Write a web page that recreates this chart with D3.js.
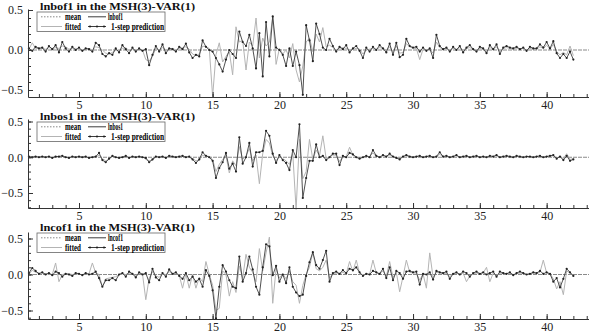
<!DOCTYPE html>
<html><head><meta charset="utf-8">
<script src="https://cdn.jsdelivr.net/npm/d3@7"></script>
<style>body{margin:0;background:#fff}svg{display:block}</style>
</head><body><svg id="c" width="589" height="334"></svg>
<script>
// ---------- DATA ----------
const timeStart = 1.25;   // first observation
const timeStep = 0.25;    // spacing between observations
const xTickLabels = [5, 10, 15, 20, 25, 30, 35, 40];
const yTickLabels = [-0.5, 0.0, 0.5];
const seriesNames = ["lnbof1", "lnbos1", "lncof1"];
const modelName = "MSH(3)-VAR(1)";
const legendLabels = ["mean", "fitted", "1-step prediction"];
const meanValues = [0.0, 0.0, 0.0];

const bof1Actual = [
 0.02,-0.01,0.04,0.02,  0.03,-0.02,0.05,0.01,  0.06,-0.03,0.10,0.02,  -0.02,0.04,0.00,0.03,
 -0.01,0.02,0.01,-0.02, 0.09,0.06,-0.05,-0.08, -0.04,-0.06,0.02,-0.03, 0.06,0.01,-0.04,0.03,
 -0.02,0.02,-0.01,0.01, -0.19,-0.06,0.05,-0.02, 0.07,-0.04,0.02,0.01, -0.02,0.04,0.01,0.08,
 -0.03,-0.10,-0.06,-0.08, 0.12,0.04,0.00,-0.02, -0.10,-0.18,-0.27,-0.12, 0.00,-0.05,-0.10,0.23,
 0.10,0.05,0.19,0.02,  -0.23,0.21,-0.33,0.35, -0.08,0.42,0.03,0.00, -0.06,-0.20,0.02,-0.20,
 -0.02,-0.19,-0.56,0.31, 0.12,-0.14,0.33,0.20, 0.03,0.00,0.14,0.05, -0.02,0.04,0.01,0.06,
 -0.03,0.02,0.05,-0.01, -0.10,0.03,-0.02,0.04, 0.00,0.06,0.02,-0.03, 0.08,-0.06,0.09,-0.09,
 -0.06,0.14,0.05,0.03, 0.04,-0.02,0.03,-0.01, 0.02,-0.10,0.19,0.05, 0.01,0.03,-0.02,0.04,
 0.00,0.05,-0.03,0.03, 0.06,0.01,-0.02,0.04, 0.02,-0.04,0.06,0.01, 0.07,-0.05,0.03,0.05,
 0.03,0.02,0.04,0.01, 0.03,-0.01,0.04,0.02, 0.02,0.07,0.03,0.10, 0.02,0.11,-0.04,-0.10,
 -0.05,-0.10,-0.02,-0.12
];
const bof1Fitted = [
 0.01,0.09,0.02,0.02,  0.02,0.01,0.03,0.02,  0.03,0.02,0.05,0.04,  0.01,0.02,0.02,0.01,
 0.00,0.01,0.02,0.00,  0.04,0.03,0.00,-0.04, -0.05,-0.03,0.00,-0.01, 0.02,0.03,-0.01,0.01,
 0.00,0.01,0.00,-0.12, -0.14,-0.08,0.02,0.00, 0.03,0.00,0.01,0.02, 0.00,0.02,0.03,0.04,
 0.01,-0.05,-0.07,-0.05, 0.05,0.04,0.02,-0.58, -0.06,0.09,-0.15,-0.08, -0.02,-0.31,0.29,0.10,
 0.12,-0.25,0.10,0.05, 0.40,-0.10,0.15,0.05, 0.10,0.42,-0.18,0.02, -0.05,0.00,-0.10,0.08,
 -0.25,-0.40,-0.20,0.10, 0.15,-0.02,0.20,0.10, 0.28,0.04,0.06,0.03, 0.00,0.02,0.03,0.02,
 0.00,0.01,0.02,0.01, -0.05,0.00,0.01,0.02, 0.01,0.03,0.02,0.00, 0.04,-0.02,0.05,-0.04,
 -0.03,0.08,0.04,0.02, 0.02,-0.12,0.01,0.00, 0.01,-0.04,0.10,0.03, 0.01,0.02,0.00,0.02,
 0.01,0.03,0.00,0.02, 0.03,0.01,0.00,0.02, 0.01,-0.02,0.03,0.01, 0.04,-0.02,0.02,0.03,
 0.02,0.01,0.02,0.01, 0.02,0.00,0.02,0.01, 0.01,0.04,0.02,0.06, 0.01,0.07,-0.02,-0.06,
 -0.03,-0.06,0.05,-0.07
];
const bos1Actual = [
 0.01,0.00,0.01,0.00, 0.01,0.00,0.01,-0.01, 0.01,0.01,0.02,0.00, -0.01,0.01,0.00,0.01,
 0.00,0.01,-0.01,0.00, 0.01,0.06,-0.04,-0.07, -0.02,0.02,0.00,-0.01, 0.00,0.02,-0.01,0.01,
 0.00,0.01,0.00,-0.01, -0.07,-0.03,0.01,0.00, 0.01,-0.01,0.02,0.01, 0.00,0.01,0.02,0.00,
 0.01,-0.03,-0.08,-0.03, 0.07,0.02,0.00,-0.05, -0.29,-0.15,-0.07,0.06, -0.16,-0.09,-0.20,0.28,
 -0.09,0.00,0.20,-0.13, 0.07,0.07,0.09,0.37, 0.30,0.05,-0.08,0.03, -0.04,-0.08,-0.18,0.10,
 0.00,0.46,-0.57,-0.29, -0.05,-0.05,0.18,0.00, 0.02,-0.04,0.00,0.05, 0.05,-0.11,0.02,0.00,
 0.06,0.04,0.00,-0.02, 0.00,0.02,0.00,0.10, 0.02,0.00,0.03,0.01, 0.05,0.01,-0.01,-0.03,
 0.01,0.03,0.01,0.00, 0.01,0.02,0.00,0.01, 0.02,0.00,0.01,0.07, 0.01,0.02,0.00,0.01,
 0.03,0.00,0.01,0.02, 0.00,0.01,0.02,0.00, 0.01,0.00,0.02,0.01, 0.03,0.00,0.01,0.02,
 0.01,0.00,0.02,0.01, 0.00,0.01,0.01,0.00, 0.01,0.02,0.00,0.01, 0.02,0.03,-0.02,0.01,
 -0.04,0.02,-0.05,-0.03
];
const bos1Fitted = [
 0.00,0.01,0.00,0.01, 0.00,0.01,0.00,0.00, 0.01,0.00,0.01,0.01, 0.00,0.00,0.01,0.00,
 0.01,0.00,0.00,0.01, 0.00,0.03,-0.02,-0.05, -0.03,0.01,0.00,0.00, 0.01,0.01,0.00,0.00,
 0.01,0.00,0.01,-0.03, -0.05,-0.04,0.00,0.01, 0.00,0.00,0.01,0.01, 0.01,0.00,0.01,0.01,
 0.00,-0.02,-0.05,-0.04, 0.03,0.02,0.01,-0.03, -0.20,-0.10,-0.03,0.02, -0.22,-0.05,-0.12,0.15,
 -0.03,0.02,0.12,-0.05, 0.03,-0.37,0.05,0.25, 0.20,0.02,-0.05,0.02, -0.02,-0.05,-0.10,0.05,
 -0.73,0.25,-0.30,-0.20, 0.25,-0.03,0.10,0.02, 0.30,-0.02,0.01,0.03, 0.03,-0.06,0.01,0.01,
 0.14,0.03,0.01,-0.01, 0.00,0.01,0.01,0.06, 0.01,0.01,0.02,0.01, 0.03,0.01,0.00,-0.02,
 0.01,0.02,0.01,0.00, 0.01,0.01,0.00,0.01, 0.01,0.00,0.01,0.04, 0.01,0.01,0.00,0.01,
 0.02,0.00,0.01,0.01, 0.00,0.01,0.01,0.00, 0.01,0.00,0.01,0.01, 0.02,0.00,0.01,0.01,
 0.01,0.00,0.01,0.01, 0.00,0.01,0.01,0.00, 0.01,0.01,0.00,0.01, 0.01,0.02,-0.01,0.01,
 -0.02,0.05,-0.03,-0.02
];
const cof1Actual = [
 0.02,0.09,0.05,0.01, 0.03,0.00,0.02,-0.01, 0.04,0.02,-0.03,0.01, 0.00,-0.02,0.02,0.01,
 -0.01,0.02,0.00,0.01, 0.04,-0.05,-0.17,-0.08, -0.08,-0.05,-0.08,0.00, 0.02,-0.03,0.04,0.01,
 -0.04,0.03,0.00,0.02, -0.11,0.08,-0.04,-0.08, 0.02,-0.03,0.07,0.01, 0.03,-0.02,-0.06,0.02,
 -0.08,-0.03,-0.10,-0.06, -0.17,0.06,-0.02,-0.22, -0.61,-0.17,0.13,0.04, -0.08,-0.17,-0.19,0.25,
 -0.10,0.02,0.25,0.07, -0.17,-0.28,0.10,0.42, 0.39,-0.01,0.12,-0.10, 0.00,-0.12,0.10,-0.17,
 -0.25,-0.30,-0.28,-0.02, 0.17,0.31,0.13,0.08, 0.20,0.33,-0.10,0.02, 0.04,0.01,0.06,0.02,
 0.08,0.06,0.10,0.03, -0.02,0.01,0.00,0.05, 0.03,0.01,0.08,-0.05, 0.10,-0.08,0.05,0.02,
 -0.06,0.04,0.05,0.03, 0.04,-0.14,0.01,0.00, 0.03,-0.07,0.05,0.03, 0.02,0.04,-0.06,0.01,
 0.03,0.00,0.04,0.02, -0.03,0.02,0.04,0.01, 0.03,0.00,0.02,0.04, -0.03,0.04,0.02,0.01,
 0.03,-0.01,0.02,0.04, 0.02,0.00,0.01,0.03, 0.02,0.05,0.01,0.03, 0.01,-0.10,-0.05,-0.18,
 -0.06,0.08,0.03,-0.02
];
const cof1Fitted = [
 0.00,0.06,0.03,0.02, 0.02,0.01,0.01,0.00, 0.16,-0.10,0.00,0.01, 0.01,0.00,0.01,0.00,
 0.00,0.01,0.01,0.16, 0.02,0.00,-0.17,-0.06, -0.05,-0.04,-0.03,0.00, 0.01,0.00,0.02,0.01,
 -0.02,0.02,0.01,-0.35, -0.05,0.04,-0.02,-0.04, 0.01,0.00,0.04,0.01, 0.02,-0.01,-0.19,0.01,
 -0.19,0.00,-0.19,-0.04, -0.10,0.18,0.00,-0.15, -0.50,-0.47,0.05,0.00, -0.30,-0.10,-0.25,0.12,
 -0.05,0.28,0.10,0.03, -0.10,0.36,0.05,0.30, 0.52,-0.40,0.08,-0.05, 0.01,-0.06,0.05,-0.10,
 -0.15,-0.40,-0.15,0.00, 0.10,0.31,0.08,0.05, 0.10,0.20,-0.05,0.01, 0.02,0.01,0.03,0.01,
 0.18,0.04,0.20,0.02, -0.01,0.01,0.00,0.20, 0.02,0.01,0.05,-0.03, 0.18,-0.04,0.03,-0.24,
 -0.03,0.20,0.03,0.02, 0.02,-0.08,0.01,-0.19, 0.30,-0.04,0.03,0.02, 0.01,0.02,-0.03,0.01,
 0.02,0.00,0.02,-0.10, -0.02,0.01,0.02,0.01, 0.02,0.10,-0.10,0.02, -0.02,0.02,0.01,0.01,
 0.02,0.00,0.01,0.02, 0.01,0.00,0.01,0.02, 0.01,0.03,0.20,0.02, 0.01,-0.06,-0.20,-0.10,
 -0.28,0.05,0.02,-0.01
];

// ---------- LAYOUT ----------
const axisLeft = 28, axisRight = 589;
const svg = d3.select("#c");
const serif = "'Liberation Serif','Times New Roman',serif";
const x = d3.scaleLinear().domain([1.183, 43.17]).range([axisLeft, axisRight]);

const panels = [
  {name: seriesNames[0], actual: bof1Actual, fitted: bof1Fitted, mean: meanValues[0], T: 0,   yHi: 10,    yLo: 90,    bottom: 97,  top: 9},
  {name: seriesNames[1], actual: bos1Actual, fitted: bos1Fitted, mean: meanValues[1], T: 110, yHi: 121.5, yLo: 193,   bottom: 208, top: 119},
  {name: seriesNames[2], actual: cof1Actual, fitted: cof1Fitted, mean: meanValues[2], T: 221, yHi: 238.5, yLo: 310.5, bottom: 319, top: 232}
];

panels.forEach(p => {
  const y0 = d3.scaleLinear().domain([-0.5, 0.5]).range([p.yLo, p.yHi]);
  const y = d3.scaleLinear().domain([y0.invert(p.bottom), y0.invert(p.top)]).range([p.bottom, p.top]);
  const g = svg.append("g");
  const tx = i => x(timeStart + i * timeStep);

  // mean line
  g.append("line").attr("x1", axisLeft).attr("x2", axisRight)
    .attr("y1", y(p.mean)).attr("y2", y(p.mean))
    .attr("stroke", "#8a8a8a").attr("stroke-width", 1).attr("stroke-dasharray", "4,1");

  const line = d3.line().x((d, i) => tx(i)).y(d => y(d));
  g.append("path").datum(p.fitted).attr("d", line)
    .attr("fill", "none").attr("stroke", "#b4b4b4").attr("stroke-width", 1);
  g.append("path").datum(p.actual).attr("d", line)
    .attr("fill", "none").attr("stroke", "#3c3c3c").attr("stroke-width", 0.9);
  g.selectAll("circle.pt").data(p.actual).join("circle").attr("class", "pt")
    .attr("cx", (d, i) => tx(i)).attr("cy", d => y(d)).attr("r", 1.1).attr("fill", "#222");

  // x axis
  const xa = g.append("g").attr("transform", `translate(0,${p.bottom})`)
    .call(d3.axisBottom(x).tickValues(xTickLabels).tickSize(-5).tickSizeOuter(0).tickPadding(3)
      .tickFormat(d3.format("d")));
  const xm = g.append("g").attr("transform", `translate(0,${p.bottom})`)
    .call(d3.axisBottom(x).tickValues(d3.range(2, 44)).tickSize(-3).tickSizeOuter(0).tickFormat(""));
  xm.select(".domain").remove();
  // y axis
  const ya = g.append("g").attr("transform", `translate(${axisLeft},0)`)
    .call(d3.axisLeft(y).tickValues(yTickLabels).tickSize(-5).tickSizeOuter(0).tickPadding(5)
      .tickFormat(d3.format(".1f")));
  const ym = g.append("g").attr("transform", `translate(${axisLeft},0)`)
    .call(d3.axisLeft(y).ticks(12).tickSize(-3).tickSizeOuter(0).tickFormat(""));
  ym.select(".domain").remove();
  [xa, xm, ya, ym].forEach(a => {
    a.selectAll("path,line").attr("stroke", "#333");
    a.selectAll("text").attr("font-family", serif).attr("font-size", 12).attr("fill", "#222");
  });

  // title
  g.append("text").attr("x", 40).attr("y", p.T + 9.5)
    .attr("font-family", serif).attr("font-weight", "bold").attr("font-size", 10.5)
    .attr("textLength", 155).attr("lengthAdjust", "spacingAndGlyphs").attr("fill", "#111")
    .text(`${p.name} in the ${modelName}`);

  // legend
  const L = g.append("g");
  L.append("rect").attr("x", 37).attr("y", p.T + 12).attr("width", 128).attr("height", 19.5)
    .attr("fill", "#fff").attr("stroke", "#666").attr("stroke-width", 0.8);
  const r1 = p.T + 16.8, r2 = p.T + 26.5;
  L.append("line").attr("x1", 41).attr("x2", 62).attr("y1", r1).attr("y2", r1)
    .attr("stroke", "#888").attr("stroke-dasharray", "1.5,1.5");
  L.append("line").attr("x1", 88).attr("x2", 106).attr("y1", r1).attr("y2", r1).attr("stroke", "#3c3c3c");
  L.append("line").attr("x1", 41).attr("x2", 62).attr("y1", r2).attr("y2", r2).attr("stroke", "#b4b4b4");
  L.append("line").attr("x1", 88).attr("x2", 106).attr("y1", r2).attr("y2", r2).attr("stroke", "#3c3c3c");
  [90, 97, 104].forEach(cx => L.append("circle").attr("cx", cx).attr("cy", r2).attr("r", 1.1).attr("fill", "#222"));
  const lt = (txt, tx0, ty, len) => L.append("text").attr("x", tx0).attr("y", ty)
    .attr("font-family", serif).attr("font-weight", "bold").attr("font-size", 10)
    .attr("textLength", len).attr("lengthAdjust", "spacingAndGlyphs").attr("fill", "#000").text(txt);
  lt(legendLabels[0], 65, r1 + 3, 16);
  lt(p.name, 108, r1 + 3, 15);
  lt(legendLabels[1], 65, r2 + 3, 16);
  lt(legendLabels[2], 111, r2 + 3, 53);
});
</script>
</body></html>
